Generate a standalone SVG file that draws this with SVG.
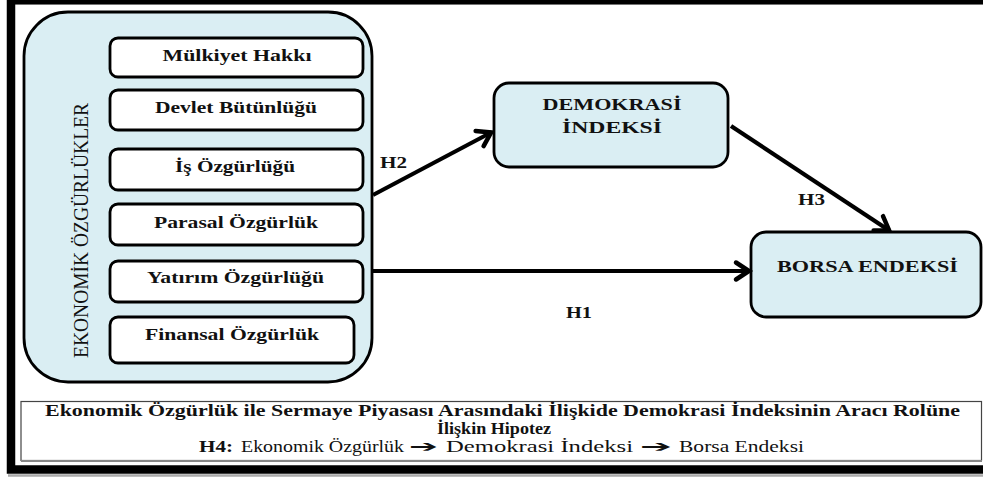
<svg xmlns="http://www.w3.org/2000/svg" width="983" height="477" viewBox="0 0 983 477">
<style>
.frame{fill:none;stroke:#000;stroke-width:8.5}
.blue{fill:#daeef3;stroke:#000;stroke-width:2.8}
.item{fill:#fff;stroke:#000;stroke-width:2.8}
.b{font-family:'Liberation Serif','Times New Roman',serif;font-weight:700;fill:#111}
.r{font-family:'Liberation Serif','Times New Roman',serif;font-weight:400;fill:#111}
.conn line{stroke:#000;stroke-width:4.2;fill:none}
</style>
<defs>
<marker id="ah" markerUnits="userSpaceOnUse" markerWidth="30" markerHeight="30" viewBox="-20 -15 30 30" refX="0" refY="0" orient="auto">
<path d="M-14,-8.5 L-1,0 L-14,8.5" fill="none" stroke="#000" stroke-width="4.5" stroke-linejoin="miter" stroke-linecap="round"/>
</marker>
</defs>
<rect x="0" y="0" width="983" height="477" fill="#fff"/>
<line x1="8" y1="475.5" x2="983" y2="475.5" stroke="#aaa" stroke-width="2.5"/>
<rect class="frame" x="11" y="0.3" width="1000" height="469.2"/>

<g id="ekonomik">
<rect class="blue" x="24" y="12" width="348" height="370" rx="44" ry="44"/>
<text class="r" font-size="20" text-anchor="middle" textLength="255" lengthAdjust="spacingAndGlyphs" transform="translate(87.5,230.5) rotate(-90)">EKONOMİK ÖZGÜRLÜKLER</text>
</g>
<g id="mulkiyet">
<rect class="item" x="110" y="38" width="253" height="39" rx="8"/>
<text class="b" font-size="17.5" x="237" y="61" text-anchor="middle" textLength="149" lengthAdjust="spacingAndGlyphs">Mülkiyet Hakkı</text>
</g>
<g id="devlet">
<rect class="item" x="110" y="90" width="253" height="40" rx="8"/>
<text class="b" font-size="17.5" x="236" y="113" text-anchor="middle" textLength="162" lengthAdjust="spacingAndGlyphs">Devlet Bütünlüğü</text>
</g>
<g id="is">
<rect class="item" x="110" y="149" width="253" height="41" rx="8"/>
<text class="b" font-size="17.5" x="235" y="172" text-anchor="middle" textLength="120" lengthAdjust="spacingAndGlyphs">İş Özgürlüğü</text>
</g>
<g id="parasal">
<rect class="item" x="110" y="204" width="253" height="41" rx="8"/>
<text class="b" font-size="17.5" x="236" y="228" text-anchor="middle" textLength="164" lengthAdjust="spacingAndGlyphs">Parasal Özgürlük</text>
</g>
<g id="yatirim">
<rect class="item" x="110" y="261" width="253" height="41" rx="8"/>
<text class="b" font-size="17.5" x="235.5" y="283" text-anchor="middle" textLength="177" lengthAdjust="spacingAndGlyphs">Yatırım Özgürlüğü</text>
</g>
<g id="finansal">
<rect class="item" x="110" y="317" width="244" height="46" rx="8"/>
<text class="b" font-size="17.5" x="232" y="340" text-anchor="middle" textLength="174" lengthAdjust="spacingAndGlyphs">Finansal Özgürlük</text>
</g>

<g id="demokrasi">
<rect class="blue" x="494" y="83" width="234" height="84" rx="15"/>
<text class="b" font-size="17.5" x="612" y="110" text-anchor="middle" textLength="139" lengthAdjust="spacingAndGlyphs">DEMOKRASİ</text>
<text class="b" font-size="17.5" x="612" y="133" text-anchor="middle" textLength="100" lengthAdjust="spacingAndGlyphs">İNDEKSİ</text>
</g>
<g id="borsa">
<rect class="blue" x="751" y="232" width="230" height="85" rx="15"/>
<text class="b" font-size="17.5" x="867.5" y="272" text-anchor="middle" textLength="181" lengthAdjust="spacingAndGlyphs">BORSA ENDEKSİ</text>
</g>

<g id="connectors" class="conn">
<line x1="373" y1="195" x2="492" y2="132" marker-end="url(#ah)"/>
<line x1="372" y1="271" x2="750" y2="271" marker-end="url(#ah)"/>
<line x1="731" y1="126" x2="890" y2="231" marker-end="url(#ah)"/>
<text class="b" font-size="17" x="380" y="168" textLength="27" lengthAdjust="spacingAndGlyphs">H2</text>
<text class="b" font-size="17" x="798" y="205" textLength="27" lengthAdjust="spacingAndGlyphs">H3</text>
<text class="b" font-size="17" x="566" y="318" textLength="26" lengthAdjust="spacingAndGlyphs">H1</text>
</g>

<g id="hipotez">
<rect x="21" y="401.5" width="960.5" height="59" fill="#fff" stroke="#444" stroke-width="1.2"/>
<line x1="21" y1="461" x2="982" y2="461" stroke="#888" stroke-width="2"/>
<text class="b" font-size="16" x="45" y="415.5" textLength="915" lengthAdjust="spacingAndGlyphs">Ekonomik Özgürlük ile Sermaye Piyasası Arasındaki İlişkide Demokrasi İndeksinin Aracı Rolüne</text>
<text class="b" font-size="17" x="494" y="433.5" text-anchor="middle" textLength="114" lengthAdjust="spacingAndGlyphs">İlişkin Hipotez</text>
<text class="r" font-size="16.5" y="451.5"><tspan font-weight="700" x="199" textLength="34" lengthAdjust="spacingAndGlyphs">H4:</tspan><tspan x="241" textLength="163" lengthAdjust="spacingAndGlyphs">Ekonomik Özgürlük</tspan><tspan x="409" font-family="DejaVu Sans, sans-serif" font-weight="700" textLength="29" lengthAdjust="spacingAndGlyphs">➔</tspan><tspan x="446" textLength="187" lengthAdjust="spacingAndGlyphs">Demokrasi İndeksi</tspan><tspan x="640" font-family="DejaVu Sans, sans-serif" font-weight="700" textLength="32" lengthAdjust="spacingAndGlyphs">➔</tspan><tspan x="679" textLength="125" lengthAdjust="spacingAndGlyphs">Borsa Endeksi</tspan></text>
</g>
</svg>
